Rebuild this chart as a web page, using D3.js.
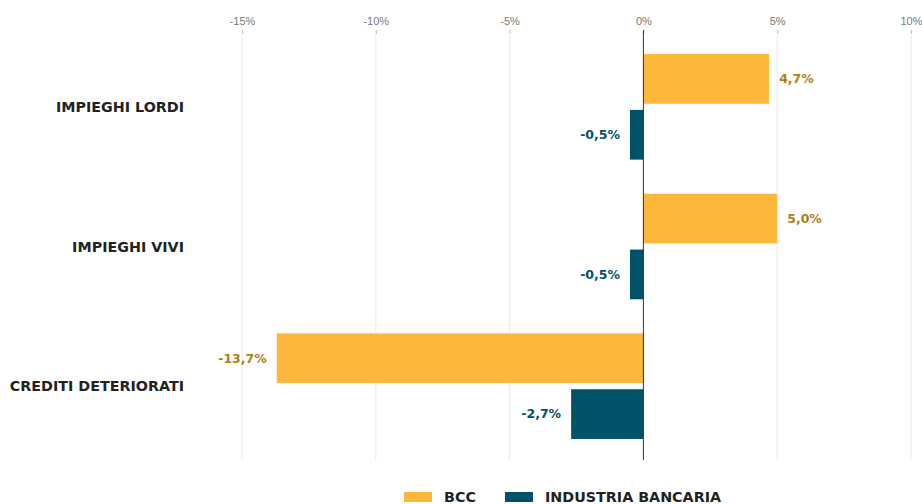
<!DOCTYPE html>
<html>
<head>
<meta charset="utf-8">
<script src="https://cdn.jsdelivr.net/npm/d3@7"></script>
<style>
  body { margin: 0; background: #fff; }
  svg { font-family: 'DejaVu Sans', sans-serif; }
</style>
</head>
<body>
<svg class="barChart" width="922" height="504"></svg>
<script>
const categories = ["IMPIEGHI LORDI", "IMPIEGHI VIVI", "CREDITI DETERIORATI"];
const series = ["BCC", "INDUSTRIA BANCARIA"];
const bccValues = [4.7, 5.0, -13.7];
const industriaValues = [-0.5, -0.5, -2.7];
const tickValues = [-15, -10, -5, 0, 5, 10];

const colors = {"BCC": "#FDB73B", "INDUSTRIA BANCARIA": "#005268"};
const labelColors = {"BCC": "#B27E14", "INDUSTRIA BANCARIA": "#005268"};

const data = categories.map((c, i) => ({
  cat: c,
  values: [
    {key: "BCC", value: bccValues[i]},
    {key: "INDUSTRIA BANCARIA", value: industriaValues[i]}
  ]
}));

// italian style: comma decimal, plain hyphen
const fmt = v => d3.format(".1f")(v).replace("−", "-").replace(".", ",") + "%";

const svg = d3.select('svg.barChart');

const x = d3.scaleLinear()
  .domain([-15, 10])
  .range([242, 911]);

const y0 = d3.scaleBand()
  .domain(categories)
  .range([37, 456])
  .paddingInner(0.244)
  .paddingOuter(0.122);

const y1 = d3.scaleBand()
  .domain(series)
  .range([0, y0.bandwidth()])
  .paddingInner(0.11);

// grid lines
svg.append('g')
  .selectAll('line.grid')
  .data(tickValues.filter(d => d !== 0))
  .enter()
  .append('line')
  .attr('class', 'grid')
  .attr('x1', d => x(d))
  .attr('x2', d => x(d))
  .attr('y1', 35)
  .attr('y2', 460)
  .style('stroke', '#e8e8e8')
  .style('stroke-width', 1);

// top axis
const axis = svg.append('g')
  .attr('transform', 'translate(0, 34)')
  .call(d3.axisTop(x).tickValues(tickValues).tickSize(4).tickFormat(d => d + "%"));

axis.select('.domain').remove();
axis.selectAll('line').style('stroke', '#bbb');
axis.selectAll('text')
  .style('font-size', '11px')
  .style('fill', '#777')
  .attr('dy', '-0.2em');

// bars
const catG = svg.selectAll('g.cat')
  .data(data)
  .enter()
  .append('g')
  .attr('class', 'cat')
  .attr('transform', d => `translate(0, ${y0(d.cat)})`);

catG.selectAll('rect.bar')
  .data(d => d.values)
  .enter()
  .append('rect')
  .attr('class', 'bar')
  .attr('x', d => x(Math.min(0, d.value)))
  .attr('width', d => Math.abs(x(d.value) - x(0)))
  .attr('y', d => y1(d.key))
  .attr('height', y1.bandwidth())
  .style('fill', d => colors[d.key]);

catG.selectAll('text.val')
  .data(d => d.values)
  .enter()
  .append('text')
  .attr('class', 'val')
  .attr('x', d => d.value >= 0 ? x(d.value) + 10 : x(d.value) - 10)
  .attr('y', d => y1(d.key) + y1.bandwidth() / 2)
  .attr('dy', '0.35em')
  .attr('text-anchor', d => d.value >= 0 ? 'start' : 'end')
  .style('font-size', '12.5px')
  .style('font-weight', 'bold')
  .style('fill', d => labelColors[d.key])
  .text(d => fmt(d.value));

catG.append('text')
  .attr('x', 184)
  .attr('y', y0.bandwidth() / 2)
  .attr('dy', '0.35em')
  .attr('text-anchor', 'end')
  .style('font-size', '14.3px')
  .style('font-weight', 'bold')
  .style('fill', '#222')
  .text(d => d.cat);

// zero line
svg.append('line')
  .attr('x1', x(0))
  .attr('x2', x(0))
  .attr('y1', 30)
  .attr('y2', 460)
  .style('stroke', '#333')
  .style('stroke-width', 1);

// legend
const legendX = [404, 505];
const legend = svg.selectAll('g.legend')
  .data(series)
  .enter()
  .append('g')
  .attr('class', 'legend')
  .attr('transform', (d, i) => `translate(${legendX[i]}, 492)`);

legend.append('rect')
  .attr('width', 28)
  .attr('height', 10)
  .style('fill', d => colors[d]);

legend.append('text')
  .attr('x', 40)
  .attr('y', 5)
  .attr('dy', '0.35em')
  .style('font-size', '14.3px')
  .style('font-weight', 'bold')
  .style('fill', '#222')
  .text(d => d);
</script>
</body>
</html>
